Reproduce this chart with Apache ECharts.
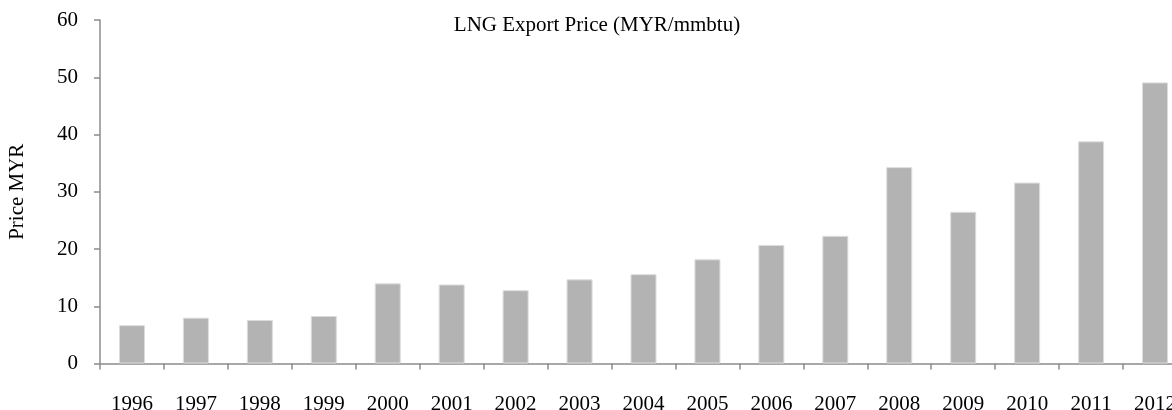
<!DOCTYPE html>
<html>
<head>
<meta charset="utf-8">
<script src="https://cdn.jsdelivr.net/npm/echarts@6/dist/echarts.min.js"></script>
<style>
  html, body { margin: 0; padding: 0; background: #fff; }
  #main { width: 1172px; height: 410px; }
</style>
</head>
<body>
<div id="main"></div>
<script>
var years = ['1996','1997','1998','1999','2000','2001','2002','2003','2004',
             '2005','2006','2007','2008','2009','2010','2011','2012'];
var prices = [6.7, 8.0, 7.6, 8.3, 14.0, 13.8, 12.8, 14.7, 15.6,
              18.2, 20.7, 22.3, 34.3, 26.5, 31.6, 38.8, 49.1];
var yTicks = [0, 10, 20, 30, 40, 50, 60];

var serif = '"Liberation Serif", "DejaVu Serif", serif';
var myChart = echarts.init(document.getElementById('main'));

var option = {
    backgroundColor: '#ffffff',
    animation: false,
    title: {
        text: 'LNG Export Price (MYR/mmbtu)',
        left: 592,
        textAlign: 'center',
        top: 10,
        textStyle: {
            fontFamily: serif,
            fontSize: 21,
            fontWeight: 'normal',
            color: '#000'
        }
    },
    grid: {
        left: 100,
        top: 20,
        width: 1087,
        height: 343.5,
        outerBoundsMode: 'none',
        containLabel: false
    },
    xAxis: {
        type: 'category',
        data: years,
        axisLine: { lineStyle: { color: '#8c8c8c', width: 1.5 } },
        axisTick: { show: true, length: 6, lineStyle: { color: '#8c8c8c', width: 1.5 } },
        axisLabel: {
            margin: 30,
            fontFamily: serif,
            fontSize: 21,
            color: '#000'
        }
    },
    yAxis: {
        type: 'value',
        min: yTicks[0],
        max: yTicks[yTicks.length - 1],
        interval: 10,
        name: 'Price MYR',
        nameLocation: 'middle',
        nameGap: 72,
        nameTextStyle: {
            fontFamily: serif,
            fontSize: 21,
            color: '#000'
        },
        axisLine: { show: true, lineStyle: { color: '#8c8c8c', width: 1.5 } },
        axisTick: { show: true, length: 6, lineStyle: { color: '#8c8c8c', width: 1.5 } },
        splitLine: { show: false },
        axisLabel: {
            margin: 22,
            fontFamily: serif,
            fontSize: 21,
            color: '#000'
        }
    },
    series: [
        {
            name: 'LNG Export Price',
            type: 'bar',
            data: prices,
            barWidth: 26,
            itemStyle: {
                color: '#b3b3b3',
                borderColor: '#dcdcdc',
                borderWidth: 1
            }
        }
    ]
};
myChart.setOption(option);
</script>
</body>
</html>
